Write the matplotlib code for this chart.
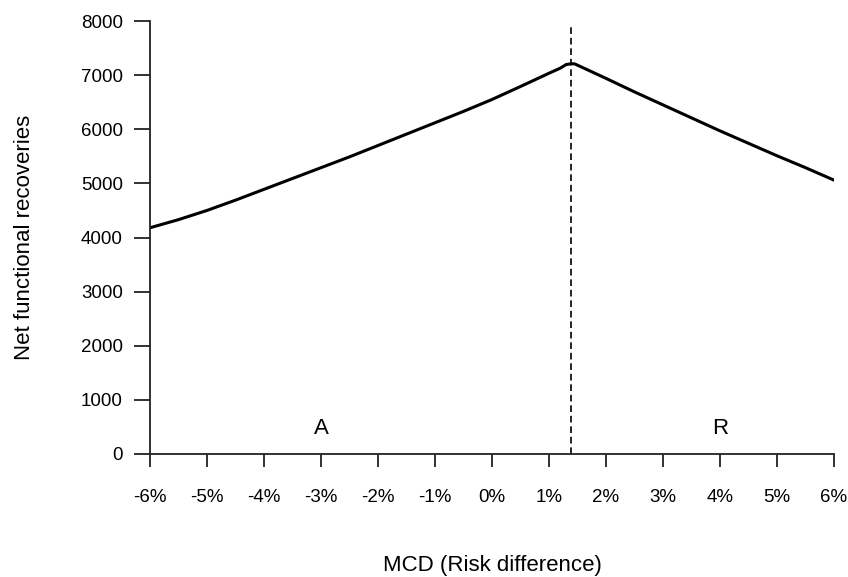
import matplotlib
matplotlib.use("Agg")
import matplotlib.pyplot as plt

plt.rcParams['font.family'] = ['Liberation Sans', 'DejaVu Sans']

# MCD (risk difference, %) and net functional recoveries
mcd = [-6.0, -5.5, -5.0, -4.5, -4.0, -3.5, -3.0, -2.5, -2.0, -1.5, -1.0, -0.5,
       0.0, 0.5, 1.0, 1.2, 1.3, 1.386, 1.45, 1.6, 2.0, 2.5, 3.0, 3.5, 4.0, 4.5, 5.0, 5.5, 6.0]
recoveries = [4180, 4330, 4500, 4690, 4890, 5090, 5290, 5490, 5700, 5910, 6120, 6330,
              6550, 6790, 7035, 7130, 7195, 7210, 7208, 7135, 6940, 6690, 6450, 6210, 5970, 5740, 5510, 5290, 5060]
threshold = 1.386
region_labels = ["A", "R"]
region_x = [-3.0, 4.0]
region_y = 465

xticks = list(range(-6, 7))
yticks = list(range(0, 8001, 1000))

fig = plt.figure(figsize=(8.48, 5.77), dpi=100)
ax = fig.add_axes([150 / 848, 1 - 454 / 577, 684 / 848, 433 / 577])

ax.plot(mcd, recoveries, color='black', lw=2.2, solid_joinstyle='round')
ax.plot([threshold, threshold], [0, 7930], color='black', lw=1.2,
        linestyle=(0, (4, 2.3)))

for lab, xx in zip(region_labels, region_x):
    ax.text(xx, region_y, lab, ha='center', va='center', fontsize=16)

ax.set_xlim(-6, 6)
ax.set_ylim(0, 8000)
ax.set_xticks(xticks)
ax.set_xticklabels([f"{t}%" for t in xticks])
ax.set_yticks(yticks)

for s in ['top', 'right']:
    ax.spines[s].set_visible(False)
for s in ['left', 'bottom']:
    ax.spines[s].set_linewidth(1.3)
    ax.spines[s].set_color('#222222')

ax.tick_params(axis='x', length=9.5, width=1.3, color='#222222', pad=16, labelsize=13.5)
ax.tick_params(axis='y', length=11.5, width=1.3, color='#222222', pad=8, labelsize=13.5)

fig.text(492 / 848, 1 - 565 / 577, "MCD (Risk difference)", ha='center', va='center', fontsize=16)
fig.text(25 / 848, 1 - 237 / 577, "Net functional recoveries", ha='center', va='center',
         rotation=90, fontsize=16)

fig.savefig("out.png", dpi=100)
